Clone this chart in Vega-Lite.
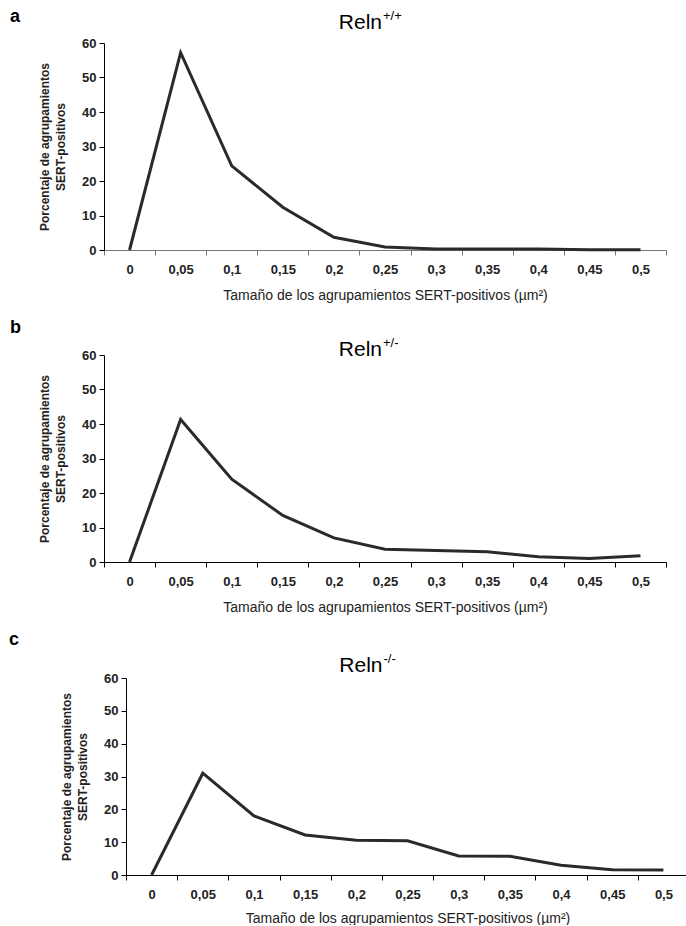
{
  "$schema": "https://vega.github.io/schema/vega-lite/v6.json",
  "padding": {"left": 9, "top": 7, "right": 0, "bottom": 0},
  "background": "white",
  "datasets": {
    "wt": [
      {"size": "0", "pct": 0}, {"size": "0,05", "pct": 57.2}, {"size": "0,1", "pct": 24.4}, {"size": "0,15", "pct": 12.4},
      {"size": "0,2", "pct": 3.7}, {"size": "0,25", "pct": 0.9}, {"size": "0,3", "pct": 0.3}, {"size": "0,35", "pct": 0.3},
      {"size": "0,4", "pct": 0.3}, {"size": "0,45", "pct": 0.1}, {"size": "0,5", "pct": 0.1}
    ],
    "het": [
      {"size": "0", "pct": 0}, {"size": "0,05", "pct": 41.3}, {"size": "0,1", "pct": 24}, {"size": "0,15", "pct": 13.5},
      {"size": "0,2", "pct": 7}, {"size": "0,25", "pct": 3.7}, {"size": "0,3", "pct": 3.3}, {"size": "0,35", "pct": 3},
      {"size": "0,4", "pct": 1.5}, {"size": "0,45", "pct": 1}, {"size": "0,5", "pct": 1.8}
    ],
    "ko": [
      {"size": "0", "pct": 0}, {"size": "0,05", "pct": 31}, {"size": "0,1", "pct": 18}, {"size": "0,15", "pct": 12.2},
      {"size": "0,2", "pct": 10.6}, {"size": "0,25", "pct": 10.4}, {"size": "0,3", "pct": 5.8}, {"size": "0,35", "pct": 5.7},
      {"size": "0,4", "pct": 3}, {"size": "0,45", "pct": 1.6}, {"size": "0,5", "pct": 1.5}
    ]
  },
  "config": {
    "view": {"stroke": null},
    "font": "Liberation Sans",
    "axis": {
      "grid": false, "labelFont": "Liberation Sans", "labelFontWeight": "bold", "labelFontSize": 13, "labelColor": "#222",
      "labelOverlap": false, "domainColor": "#000", "tickColor": "#000", "tickSize": 5, "titleFont": "Liberation Sans", "titleColor": "#222"
    },
    "title": {"font": "Liberation Sans", "fontSize": 18, "fontWeight": "bold", "color": "#000", "anchor": "start", "frame": "group"}
  },
  "columns": 1,
  "spacing": 17,
  "concat": [
    {
      "width": 562, "height": 207,
      "title": {"text": "a", "dx": -94, "offset": -16},
      "layer": [
        {
          "data": {"name": "wt"},
          "mark": {"type": "line", "color": "#2a2a2a", "strokeWidth": 3},
          "encoding": {
            "x": {"field": "size", "type": "ordinal", "sort": null,
              "scale": {"type": "band", "paddingInner": 0, "paddingOuter": 0, "domain": ["0","0,05","0,1","0,15","0,2","0,25","0,3","0,35","0,4","0,45","0,5"]},
              "axis": {"title": "Tamaño de los agrupamientos SERT-positivos (µm²)", "labelAngle": 0, "tickBand": "extent", "labelPadding": 8, "titlePadding": 12, "titleFontSize": 14, "titleFontWeight": "normal", "domainColor": "#777", "tickColor": "#777"}},
            "y": {"field": "pct", "type": "quantitative",
              "scale": {"domain": [0, 60], "nice": false},
              "axis": {"title": ["Porcentaje de agrupamientos", "SERT-positivos"], "values": [0,10,20,30,40,50,60], "tickCount": 7, "labelPadding": 3, "titlePadding": 14, "titleFontSize": 12, "titleFontWeight": "bold", "titleLineHeight": 16}}
          }
        },
        {
          "data": {"values": [{"t": "Reln"}]},
          "mark": {"type": "text", "align": "right", "baseline": "alphabetic", "fontSize": 21, "font": "Liberation Sans", "color": "#000", "dx": -3},
          "encoding": {
            "x": {"datum": "0,25", "type": "ordinal"},
            "y": {"datum": 64.1, "type": "quantitative", "axis": {"title": ["Porcentaje de agrupamientos", "SERT-positivos"], "values": [0,10,20,30,40,50,60], "tickCount": 7}},
            "text": {"field": "t"}}
        },
        {
          "data": {"values": [{"t": "+/+"}]},
          "mark": {"type": "text", "align": "left", "baseline": "alphabetic", "fontSize": 13, "font": "Liberation Sans", "color": "#000", "dx": -2, "dy": -9},
          "encoding": {
            "x": {"datum": "0,25", "type": "ordinal"},
            "y": {"datum": 64.1, "type": "quantitative", "axis": {"title": ["Porcentaje de agrupamientos", "SERT-positivos"], "values": [0,10,20,30,40,50,60], "tickCount": 7}},
            "text": {"field": "t"}}
        }
      ]
    },
    {
      "width": 562, "height": 207,
      "title": {"text": "b", "dx": -94, "offset": 0},
      "layer": [
        {
          "data": {"name": "het"},
          "mark": {"type": "line", "color": "#2a2a2a", "strokeWidth": 3},
          "encoding": {
            "x": {"field": "size", "type": "ordinal", "sort": null,
              "scale": {"type": "band", "paddingInner": 0, "paddingOuter": 0, "domain": ["0","0,05","0,1","0,15","0,2","0,25","0,3","0,35","0,4","0,45","0,5"]},
              "axis": {"title": "Tamaño de los agrupamientos SERT-positivos (µm²)", "labelAngle": 0, "tickBand": "extent", "labelPadding": 8, "titlePadding": 12, "titleFontSize": 14, "titleFontWeight": "normal"}},
            "y": {"field": "pct", "type": "quantitative",
              "scale": {"domain": [0, 60], "nice": false},
              "axis": {"title": ["Porcentaje de agrupamientos", "SERT-positivos"], "values": [0,10,20,30,40,50,60], "tickCount": 7, "labelPadding": 3, "titlePadding": 14, "titleFontSize": 12, "titleFontWeight": "bold", "titleLineHeight": 16}}
          }
        },
        {
          "data": {"values": [{"t": "Reln"}]},
          "mark": {"type": "text", "align": "right", "baseline": "alphabetic", "fontSize": 21, "font": "Liberation Sans", "color": "#000", "dx": -3},
          "encoding": {
            "x": {"datum": "0,25", "type": "ordinal"},
            "y": {"datum": 59.6, "type": "quantitative", "axis": {"title": ["Porcentaje de agrupamientos", "SERT-positivos"], "values": [0,10,20,30,40,50,60], "tickCount": 7}},
            "text": {"field": "t"}}
        },
        {
          "data": {"values": [{"t": "+/-"}]},
          "mark": {"type": "text", "align": "left", "baseline": "alphabetic", "fontSize": 13, "font": "Liberation Sans", "color": "#000", "dx": -2, "dy": -9},
          "encoding": {
            "x": {"datum": "0,25", "type": "ordinal"},
            "y": {"datum": 59.6, "type": "quantitative", "axis": {"title": ["Porcentaje de agrupamientos", "SERT-positivos"], "values": [0,10,20,30,40,50,60], "tickCount": 7}},
            "text": {"field": "t"}}
        }
      ]
    },
    {
      "width": 585, "height": 197,
      "title": {"text": "c", "dx": -95, "offset": 4},
      "layer": [
        {
          "data": {"name": "ko"},
          "mark": {"type": "line", "color": "#2a2a2a", "strokeWidth": 3},
          "encoding": {
            "x": {"field": "size", "type": "ordinal", "sort": null,
              "scale": {"type": "band", "paddingInner": 0, "paddingOuter": 0, "range": [22, 585], "domain": ["0","0,05","0,1","0,15","0,2","0,25","0,3","0,35","0,4","0,45","0,5"]},
              "axis": {"title": "Tamaño de los agrupamientos SERT-positivos (µm²)", "labelAngle": 0, "tickBand": "extent", "labelPadding": 8, "titlePadding": 10, "titleFontSize": 14, "titleFontWeight": "normal"}},
            "y": {"field": "pct", "type": "quantitative",
              "scale": {"domain": [0, 60], "nice": false},
              "axis": {"title": ["Porcentaje de agrupamientos", "SERT-positivos"], "values": [0,10,20,30,40,50,60], "tickCount": 7, "offset": -22, "labelPadding": 3, "titlePadding": 14, "titleFontSize": 12, "titleFontWeight": "bold", "titleLineHeight": 16}}
          }
        },
        {
          "data": {"values": [{"t": "Reln"}]},
          "mark": {"type": "text", "align": "right", "baseline": "alphabetic", "fontSize": 21, "font": "Liberation Sans", "color": "#000", "dx": -25},
          "encoding": {
            "x": {"datum": "0,25", "type": "ordinal"},
            "y": {"datum": 61.8, "type": "quantitative", "axis": {"title": ["Porcentaje de agrupamientos", "SERT-positivos"], "values": [0,10,20,30,40,50,60], "tickCount": 7, "offset": -22}},
            "text": {"field": "t"}}
        },
        {
          "data": {"values": [{"t": "-/-"}]},
          "mark": {"type": "text", "align": "left", "baseline": "alphabetic", "fontSize": 13, "font": "Liberation Sans", "color": "#000", "dx": -24, "dy": -9},
          "encoding": {
            "x": {"datum": "0,25", "type": "ordinal"},
            "y": {"datum": 61.8, "type": "quantitative", "axis": {"title": ["Porcentaje de agrupamientos", "SERT-positivos"], "values": [0,10,20,30,40,50,60], "tickCount": 7, "offset": -22}},
            "text": {"field": "t"}}
        }
      ]
    }
  ]
}
